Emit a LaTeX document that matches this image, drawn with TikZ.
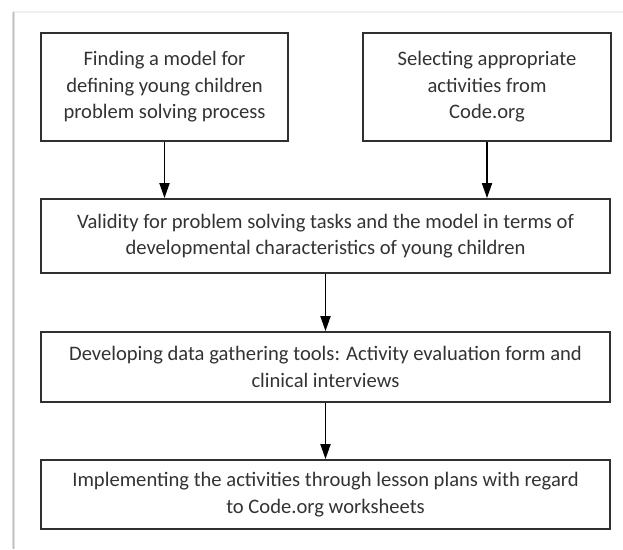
\documentclass[tikz,border=0pt]{standalone}
\usepackage{fontspec}
\setmainfont{Carlito}
\usetikzlibrary{arrows.meta}
\definecolor{boxline}{HTML}{303030}
\definecolor{txt}{HTML}{333333}
\tikzset{
  flowbox/.style={draw=boxline, line width=1.8pt, align=center, text=txt,
    inner sep=0pt, font=\fontsize{20.6}{26.5}\selectfont},
  flowarrow/.style={draw=black, line width=1.8pt, -{Triangle[length=15pt,width=10pt]}}
}
\begin{document}
\begin{tikzpicture}[x=1pt,y=-1pt]
\useasboundingbox (0,0) rectangle (623,549);
% page frame shadow
\draw[gray!12, line width=1.2pt] (13,12) -- (623,12);
\draw[gray!25, line width=3pt] (13.5,12) -- (13.5,549);
\draw[gray!50, line width=1.2pt] (13.5,12) -- (13.5,549);
% boxes
\node[flowbox, minimum width=247pt, minimum height=108pt] (b1) at (164.5,87)
  {Finding a model for\\defining young children\\problem solving process};
\node[flowbox, minimum width=248pt, minimum height=108pt] (b2) at (487,87)
  {Selecting appropriate\\activities from\\Code.org};
\node[flowbox, minimum width=569pt, minimum height=74pt] (b3) at (325.5,236)
  {Validity for problem solving tasks and the model in terms of\\developmental characteristics of young children};
\node[flowbox, minimum width=569pt, minimum height=70pt] (b4) at (325.5,367)
  {Developing data gathering tools: Activity evaluation form and\\clinical interviews};
\node[flowbox, minimum width=569pt, minimum height=69pt] (b5) at (325.5,494.5)
  {Implementing the activities through lesson plans with regard\\to Code.org worksheets};
% arrows
\draw[flowarrow] (b1.south) -- (b1.south |- b3.north);
\draw[flowarrow] (b2.south) -- (b2.south |- b3.north);
\draw[flowarrow] (b3.south) -- (b4.north);
\draw[flowarrow] (b4.south) -- (b5.north);
\end{tikzpicture}
\end{document}
